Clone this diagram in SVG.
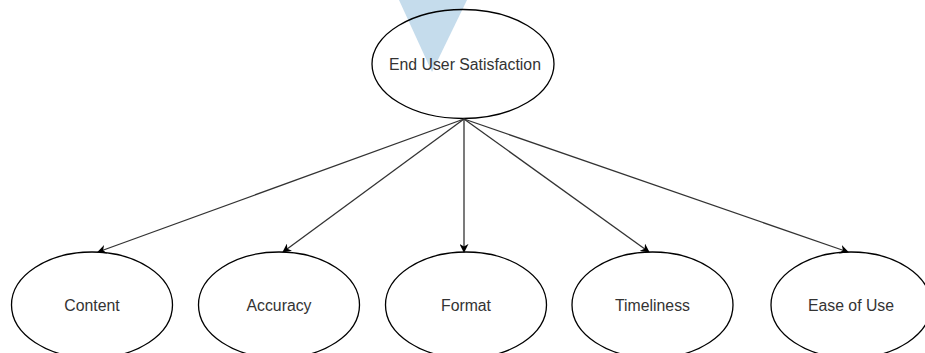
<svg xmlns="http://www.w3.org/2000/svg" width="925" height="353" viewBox="0 0 925 353">
<style>
.n{fill:none;stroke:#000;stroke-width:1.3}
.t{font-family:"Liberation Sans",Arial,sans-serif;font-size:15.8px;fill:#333;text-anchor:middle;dominant-baseline:central}
.c{stroke:#333;stroke-width:1.3;fill:none;marker-end:url(#a)}
</style>
<defs>
<marker id="a" viewBox="0 0 10 10" refX="9" refY="5" markerWidth="9" markerHeight="9" markerUnits="userSpaceOnUse" orient="auto">
<path d="M0,0 L10,5 L0,10 L3,5 Z" fill="#000"/>
</marker>
</defs>
<rect width="925" height="353" fill="#fff"/>
<polygon points="399,0 467,0 432,72" fill="#c5dcec"/>
<g id="end-user-satisfaction">
<ellipse class="n" cx="463" cy="64" rx="91" ry="54.5"/>
<text class="t" x="465" y="64">End User Satisfaction</text>
</g>
<g id="content">
<ellipse class="n" cx="92" cy="305" rx="80.5" ry="53"/>
<text class="t" x="92" y="305">Content</text>
</g>
<g id="accuracy">
<ellipse class="n" cx="279" cy="305" rx="80.5" ry="53"/>
<text class="t" x="279" y="305">Accuracy</text>
</g>
<g id="format">
<ellipse class="n" cx="466" cy="305" rx="80.5" ry="53"/>
<text class="t" x="466" y="305">Format</text>
</g>
<g id="timeliness">
<ellipse class="n" cx="652.5" cy="305" rx="80.5" ry="53"/>
<text class="t" x="652.5" y="305">Timeliness</text>
</g>
<g id="ease-of-use">
<ellipse class="n" cx="851" cy="305" rx="80" ry="53"/>
<text class="t" x="851" y="305">Ease of Use</text>
</g>
<g id="connectors">
<line class="c" x1="464" y1="119" x2="98" y2="252"/>
<line class="c" x1="464" y1="119" x2="283" y2="252"/>
<line class="c" x1="464" y1="119" x2="464" y2="252"/>
<line class="c" x1="464" y1="119" x2="649" y2="252"/>
<line class="c" x1="464" y1="119" x2="848" y2="252"/>
</g>
</svg>
